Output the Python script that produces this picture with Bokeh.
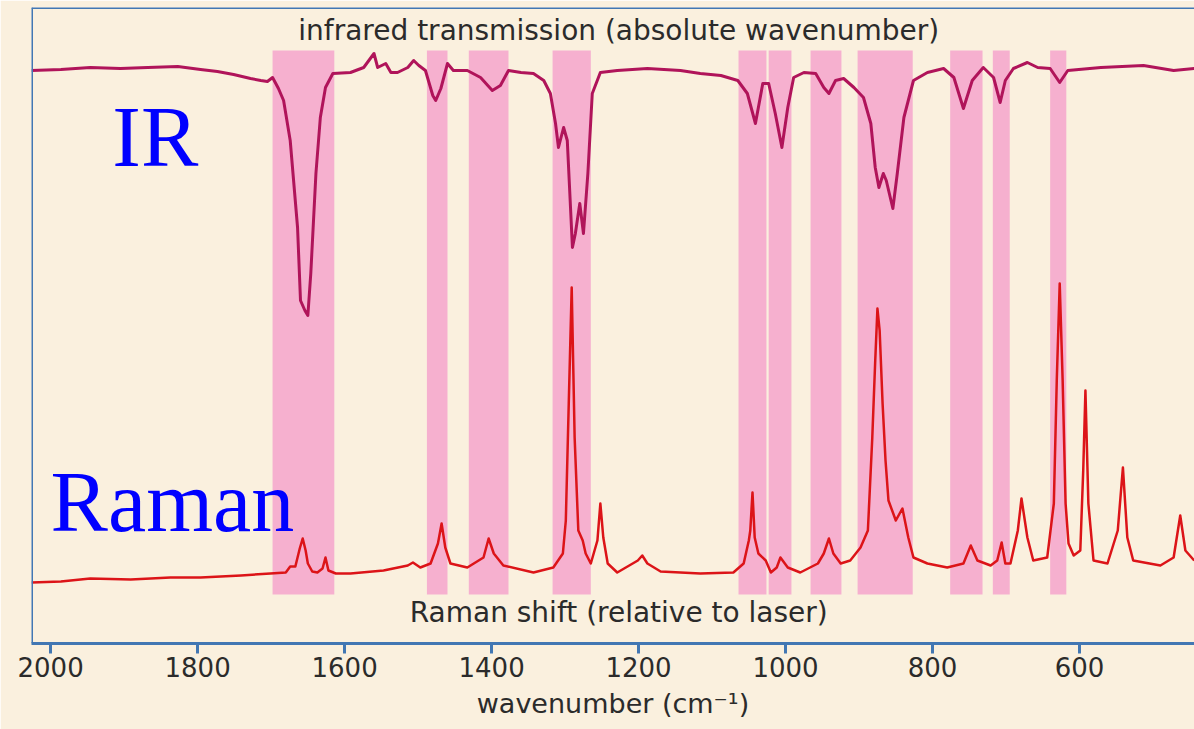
from bokeh.plotting import figure
from bokeh.models import Range1d, FixedTicker, Span, Label
from bokeh.embed import file_html
from bokeh.resources import INLINE

# ---- data (wavenumber in cm-1, intensity in arbitrary stacked units) ----
ir_wavenumber = [2026, 1986, 1946, 1905, 1868, 1827, 1796, 1773, 1751, 1728, 1714, 1705, 1698,
                 1690, 1683, 1674, 1664, 1660, 1654, 1650, 1646, 1639, 1633, 1626, 1616, 1592,
                 1574, 1560, 1555, 1544, 1537, 1528, 1514, 1506, 1499, 1490, 1480, 1476, 1469,
                 1460, 1452, 1433, 1415, 1399, 1388, 1377, 1360, 1343, 1329, 1320, 1313, 1309,
                 1302, 1297, 1290, 1286, 1280, 1275, 1269, 1263, 1252, 1229, 1188, 1143, 1116,
                 1088, 1065, 1052, 1041, 1031, 1023, 1014, 1005, 997, 989, 975, 959, 948, 941,
                 932, 921, 907, 894, 884, 878, 873, 867, 863, 854, 848, 839, 826, 807, 785, 771,
                 758, 746, 731, 717, 708, 701, 690, 671, 657, 640, 627, 616, 571, 513, 472, 444]
ir_transmission = [114.6, 114.8, 115.2, 115.0, 115.2, 115.4, 114.8, 114.4, 113.8, 113.0, 112.6,
                   112.4, 113.2, 111.0, 108.6, 100.6, 83.2, 68.6, 66.6, 65.6, 74.0, 94.0, 105.2,
                   111.2, 114.0, 114.2, 115.2, 118.0, 115.2, 116.0, 114.2, 114.2, 115.2, 116.6,
                   115.6, 114.6, 109.6, 108.6, 111.0, 116.0, 114.6, 114.6, 113.2, 110.6, 111.6,
                   114.6, 114.2, 114.0, 112.6, 110.0, 104.0, 99.2, 103.2, 100.6, 79.2, 82.0, 88.0,
                   82.0, 94.0, 110.0, 114.2, 114.6, 115.0, 114.6, 114.0, 113.6, 112.6, 110.0,
                   104.0, 112.0, 112.0, 106.0, 99.2, 107.2, 113.2, 114.2, 114.0, 111.2, 110.0,
                   112.6, 113.0, 111.2, 109.2, 104.0, 95.2, 91.2, 94.0, 92.6, 87.0, 94.0, 105.2,
                   112.6, 114.2, 115.0, 113.2, 107.0, 112.6, 115.2, 113.2, 108.2, 112.6, 115.0,
                   116.2, 115.2, 115.0, 112.2, 114.6, 115.2, 115.6, 114.6, 115.0]

raman_shift = [2026, 1986, 1946, 1891, 1837, 1796, 1741, 1701, 1680, 1674, 1667, 1661, 1657,
               1653, 1650, 1644, 1637, 1630, 1626, 1622, 1612, 1592, 1547, 1514, 1507, 1497,
               1483, 1473, 1468, 1463, 1456, 1433, 1411, 1404, 1397, 1384, 1343, 1316, 1303,
               1299, 1295, 1291, 1287, 1282, 1276, 1272, 1265, 1256, 1252, 1248, 1242, 1229,
               1201, 1195, 1188, 1170, 1116, 1071, 1057, 1050, 1048, 1045, 1042, 1037, 1027,
               1020, 1012, 1007, 997, 980, 956, 948, 941, 935, 925, 912, 898, 888, 882, 878,
               875, 872, 868, 864, 860, 850, 841, 833, 826, 807, 780, 758, 748, 739, 721, 712,
               706, 701, 694, 684, 679, 671, 663, 644, 635, 631, 627, 623, 619, 615, 608, 599,
               595, 592, 588, 581, 562, 548, 541, 535, 527, 490, 472, 463, 456, 444]
raman_intensity = [12.2, 12.4, 13.0, 12.8, 13.2, 13.2, 13.6, 14.0, 14.2, 15.4, 15.4, 19.0, 21.0,
                   18.6, 16.0, 14.4, 14.2, 15.0, 17.2, 14.6, 14.0, 14.0, 14.6, 15.6, 16.2, 15.2,
                   16.0, 20.0, 24.0, 19.2, 16.0, 15.2, 17.2, 21.0, 18.0, 15.6, 14.2, 15.2, 18.0,
                   24.6, 48.0, 71.2, 41.2, 22.6, 20.6, 18.0, 16.0, 20.6, 28.0, 21.2, 16.0, 14.2,
                   16.6, 17.6, 16.0, 14.4, 14.0, 14.2, 16.0, 20.6, 22.6, 30.2, 21.2, 18.0, 16.6,
                   14.2, 15.2, 17.2, 15.2, 14.2, 16.0, 18.0, 21.0, 18.0, 16.0, 16.6, 19.2, 22.6,
                   41.2, 56.6, 67.0, 62.6, 48.0, 36.6, 28.6, 24.6, 27.0, 21.2, 17.2, 16.0, 15.2,
                   16.0, 19.6, 16.6, 15.6, 16.6, 20.2, 16.0, 16.0, 22.6, 29.0, 21.2, 16.6, 17.2,
                   28.0, 52.6, 72.0, 52.6, 28.0, 20.0, 17.6, 18.6, 34.6, 50.6, 28.0, 16.6, 16.0,
                   22.6, 35.2, 21.2, 16.6, 15.6, 17.2, 25.6, 18.6, 16.6]

band_start = [1698, 1488, 1431, 1317, 1064, 1023, 966, 902, 776, 718, 640]
band_end = [1614, 1460, 1377, 1265, 1026, 992, 924, 827, 732, 695, 618]
band_bottom = 9.8
band_top = 118.6

tick_values = [2000, 1800, 1600, 1400, 1200, 1000, 800, 600]

ir_title = "infrared transmission (absolute wavenumber)"
raman_title = "Raman shift (relative to laser)"
x_label = "wavenumber (cm\u207b\u00b9)"

# ---- styling ----
BG = "#faf0de"
AXIS = "#4277b3"
BAND = "#f6b0cf"
IR_COLOR = "#b0145a"
RAMAN_COLOR = "#dc1418"
TEXT = "#2b2b2b"
FONT = "DejaVu Sans"

X_START, X_END = 2026, 443.6
Y_MIN, Y_MAX = 0, 127.2

p = figure(width=1194, height=729, output_backend="svg", toolbar_location=None,
           x_range=Range1d(X_START, X_END), y_range=Range1d(Y_MIN, Y_MAX),
           min_border_left=31, min_border_right=0, min_border_top=7, min_border_bottom=86)
p.background_fill_color = BG
p.border_fill_color = BG
p.outline_line_color = None
p.grid.visible = False
p.yaxis.visible = False

ax = p.xaxis[0]
ax.ticker = FixedTicker(ticks=tick_values)
ax.minor_tick_line_color = None
ax.axis_line_color = AXIS
ax.axis_line_width = 3
ax.major_tick_line_color = AXIS
ax.major_tick_line_width = 3
ax.major_tick_in = 0
ax.major_tick_out = 10
ax.major_label_standoff = 3
ax.major_label_text_font = FONT
ax.major_label_text_font_size = "26px"
ax.major_label_text_color = TEXT
ax.axis_label = x_label
ax.axis_label_text_font = FONT
ax.axis_label_text_font_size = "27px"
ax.axis_label_text_font_style = "normal"
ax.axis_label_text_color = TEXT
ax.axis_label_standoff = 8

# bands
p.quad(left=band_start, right=band_end, bottom=band_bottom, top=band_top,
       fill_color=BAND, line_color=None)

# spectra
p.line(ir_wavenumber, ir_transmission, line_color=IR_COLOR, line_width=3, line_join="round")
p.line(raman_shift, raman_intensity, line_color=RAMAN_COLOR, line_width=2.5, line_join="round")

# frame lines (left and top)
p.add_layout(Span(location=X_START, dimension="height", line_color=AXIS, line_width=3))
p.add_layout(Span(location=Y_MAX, dimension="width", line_color=AXIS, line_width=3))

# labels
p.add_layout(Label(x=1227, y=122.6, text=ir_title, text_align="center", text_baseline="middle",
                   text_font=FONT, text_font_size="28px", text_color=TEXT))
p.add_layout(Label(x=1227, y=6.2, text=raman_title, text_align="center", text_baseline="middle",
                   text_font=FONT, text_font_size="28px", text_color=TEXT))
p.add_layout(Label(x=1916, y=101.4, text="IR", text_align="left", text_baseline="alphabetic",
                   text_font="Liberation Serif", text_font_size="86px", text_color="#0000ff"))
p.add_layout(Label(x=2000, y=28.4, text="Raman", text_align="left", text_baseline="alphabetic",
                   text_font="Liberation Serif", text_font_size="86px", text_color="#0000ff"))

open("out.html", "w").write(file_html(p, INLINE))
